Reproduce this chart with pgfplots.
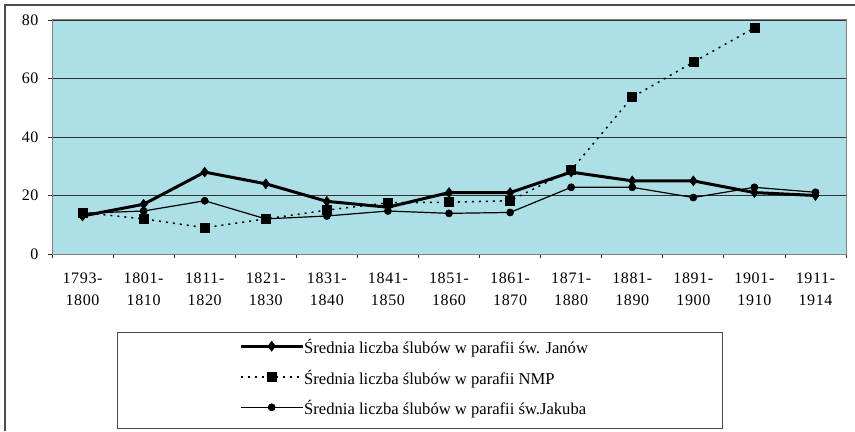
\documentclass[border=0pt]{standalone}
\usepackage{fontspec}
\setmainfont{Liberation Serif}
\usepackage{pgfplots}
\pgfplotsset{compat=1.18}
\definecolor{bgblue}{RGB}{173,223,231}
\begin{document}
\fontsize{16bp}{19bp}\selectfont
\begin{tikzpicture}[x=1bp,y=1bp]
\useasboundingbox (0,0) rectangle (855,431);
\draw[line width=1.2bp, black!70] (5,0) -- (5,426) -- (855,426);
\draw[line width=1bp, black!70] (117,3) rectangle (722,99);
\begin{axis}[
  at={(52bp,177bp)}, anchor=south west,
  scale only axis, width=794bp, height=234bp,
  xmin=-0.5, xmax=12.5, ymin=0, ymax=80,
  axis background/.style={fill=bgblue},
  axis line style={black!50, line width=1bp},
  xtick={0,...,12},
  xticklabels={1793-\\1800,1801-\\1810,1811-\\1820,1821-\\1830,1831-\\1840,1841-\\1850,1851-\\1860,1861-\\1870,1871-\\1880,1881-\\1890,1891-\\1900,1901-\\1910,1911-\\1914},
  minor xtick={-0.5,0.5,...,12.5},
  ytick={0,20,40,60,80},
  tick align=outside, tick pos=left,
  major tick length=4bp, minor tick length=4bp,
  major x tick style={draw=none},
  minor x tick style={black!80, line width=0.8bp},
  major y tick style={black!80, line width=0.8bp},
  ymajorgrids, grid style={black!80, line width=0.8bp},
  /pgf/number format/assume math mode=true,
  xticklabel style={align=center, font=\fontsize{16bp}{22bp}\selectfont\addfontfeatures{LetterSpace=4}, yshift=-9bp},
  yticklabel style={font=\fontsize{16bp}{19bp}\selectfont\addfontfeatures{LetterSpace=4}, xshift=-4bp},
  legend style={at={(0.2355,-0.3333)}, anchor=north west, draw=none, fill=none,
    inner xsep=0bp, inner ysep=9bp, row sep=15bp,
    nodes={inner sep=0bp, text height=11bp, text depth=4bp},
    /tikz/every even column/.append style={column sep=3bp},
    font=\fontsize{16.6bp}{19bp}\selectfont},
  legend cell align=left,
  legend image code/.code={\draw[mark repeat=2,mark phase=2,#1] plot coordinates {(0bp,4bp) (31bp,4bp) (62bp,4bp)};},
  clip=false,
]
\addplot[black, line width=3bp, mark=diamond*, mark size=5bp, mark options={solid, line width=0.5bp}]
  coordinates {(0,13) (1,17) (2,28) (3,24) (4,18) (5,16) (6,21) (7,21) (8,28) (9,25) (10,25) (11,21) (12,20)};
\addlegendentry{Średnia liczba ślubów w parafii św. Janów}
\addplot[black, line width=1.5bp, dash pattern=on 2bp off 5bp, mark=square*, mark size=4.5bp, mark options={solid, line width=0.5bp}]
  coordinates {(0,14.2) (1,12) (2,9) (3,12) (4,15) (5,17.5) (6,17.7) (7,18.2) (8,28.7) (9,53.6) (10,65.6) (11,77.3)};
\addlegendentry{Średnia liczba ślubów w parafii NMP}
\addplot[black, line width=1.2bp, mark=*, mark size=3.6bp, mark options={solid, line width=0.5bp}]
  coordinates {(0,13.9) (1,14.7) (2,18.2) (3,12) (4,13) (5,14.7) (6,13.9) (7,14.2) (8,22.8) (9,22.8) (10,19.3) (11,22.8) (12,21.1)};
\addlegendentry{Średnia liczba ślubów w parafii św.Jakuba}
\end{axis}
\end{tikzpicture}
\end{document}
